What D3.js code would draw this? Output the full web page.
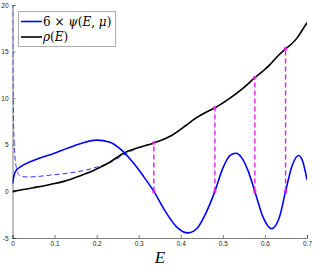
<!DOCTYPE html>
<html><head><meta charset="utf-8">
<script src="https://cdn.jsdelivr.net/npm/d3@7"></script>
<style>body{margin:0;background:#fff}svg{display:block}</style>
</head><body>
<svg id="c" width="316" height="267"></svg>
<script>
const xTicks = [0, 0.1, 0.2, 0.3, 0.4, 0.5, 0.6, 0.7];
const yTicks = [-5, 0, 5, 10, 15, 20];

const psiE = [0, 0.003, 0.008, 0.018, 0.033, 0.06, 0.096, 0.144, 0.2, 0.23, 0.26, 0.29, 0.31, 0.336, 0.36, 0.39, 0.417, 0.44, 0.46, 0.481, 0.5, 0.518, 0.531, 0.545, 0.56, 0.576, 0.595, 0.616, 0.635, 0.649, 0.665, 0.68, 0.69, 0.7];
const psiV = [0.8, 1.6, 2.2, 2.6, 3.0, 3.5, 4.05, 4.85, 5.5, 5.3, 4.4, 2.9, 1.7, 0, -1.9, -3.8, -4.45, -3.9, -2.3, 0, 2.5, 3.9, 4.1, 3.6, 2.2, 0, -2.7, -4.0, -2.7, 0, 2.8, 3.86, 3.2, 1.25];

const rhoE = [0, 0.02, 0.05, 0.09, 0.12, 0.15, 0.18, 0.2, 0.23, 0.264, 0.3, 0.336, 0.378, 0.413, 0.434, 0.469, 0.481, 0.517, 0.549, 0.576, 0.595, 0.612, 0.63, 0.649, 0.665, 0.677, 0.69, 0.7];
const rhoV = [0, 0.15, 0.4, 0.75, 1.05, 1.5, 2.0, 2.4, 3.1, 4.1, 4.7, 5.2, 6.0, 7.1, 7.8, 8.7, 8.97, 10.0, 11.1, 12.2, 12.9, 13.6, 14.5, 15.3, 15.9, 16.5, 17.4, 18.1];

const approxE = [0.0004, 0.001, 0.002, 0.004, 0.0065, 0.01, 0.015, 0.022, 0.035, 0.06, 0.09, 0.13, 0.176, 0.2, 0.232, 0.26, 0.3, 0.336, 0.378, 0.413, 0.434, 0.469, 0.481, 0.517, 0.549, 0.576, 0.595, 0.612, 0.63, 0.649, 0.665, 0.677, 0.69, 0.7];
const approxV = [21, 14, 9, 5.2, 3.4, 2.4, 1.8, 1.6, 1.55, 1.6, 1.75, 1.95, 2.3, 2.6, 3.1, 3.8, 4.7, 5.2, 6.0, 7.1, 7.8, 8.7, 8.97, 10.0, 11.1, 12.2, 12.9, 13.6, 14.5, 15.3, 15.9, 16.5, 17.4, 18.1];

const rootE = [0.336, 0.481, 0.576, 0.649];
const rootRho = [5.2, 8.97, 12.2, 15.3];

const svg = d3.select('#c');
const L = 12.5, R = 307, T = 5, B = 238;
const x = d3.scaleLinear().domain([0, 0.7]).range([L, R]);
const y = d3.scaleLinear().domain([-5, 20]).range([B, T]);

svg.append('defs').append('clipPath').attr('id', 'clip')
  .append('rect').attr('x', L).attr('y', T).attr('width', R - L).attr('height', B - T);

const ax = svg.append('g').attr('font-family', 'Helvetica, Arial, sans-serif');
const xa = ax.append('g').attr('transform', `translate(0,${B})`)
  .call(d3.axisBottom(x).tickValues(xTicks).tickSize(-3).tickPadding(5).tickFormat(d => d === 0 ? '0' : d3.format('.1f')(d)));
const ya = ax.append('g').attr('transform', `translate(${L},0)`)
  .call(d3.axisLeft(y).tickValues(yTicks).tickSize(-3).tickPadding(4).tickFormat(d => d < 0 ? '-' + Math.abs(d) : d));
ax.selectAll('.domain').attr('stroke', '#262626').attr('stroke-width', 0.6);
ax.selectAll('.tick line').attr('stroke', '#262626').attr('stroke-width', 0.6);
ax.selectAll('.tick text').attr('fill', '#262626').attr('font-size', 6.5);
xa.selectAll('.tick text').attr('dy', '0.5em');

const g = svg.append('g').attr('clip-path', 'url(#clip)');
const line = (xs, ys) => d3.line().curve(d3.curveMonotoneX)
  .x((d, i) => x(xs[i])).y((d, i) => y(ys[i]))(xs);

g.append('path').attr('d', line(approxE, approxV)).attr('fill', 'none')
  .attr('stroke', '#3333ff').attr('stroke-width', 1).attr('stroke-dasharray', '5,3');
g.append('path').attr('d', line(rhoE, rhoV)).attr('fill', 'none')
  .attr('stroke', '#000').attr('stroke-width', 1.6);
g.append('path').attr('d', line(psiE, psiV)).attr('fill', 'none')
  .attr('stroke', '#0000ff').attr('stroke-width', 1.6);

rootE.forEach((e, i) => {
  svg.append('line').attr('x1', x(e)).attr('x2', x(e)).attr('y1', y(0)).attr('y2', y(rootRho[i]))
    .attr('stroke', '#e619e6').attr('stroke-width', 1.4).attr('stroke-dasharray', '5,3');
  [0, rootRho[i]].forEach(v => svg.append('rect').attr('x', x(e) - 1.5).attr('y', y(v) - 1.5)
    .attr('width', 3).attr('height', 3).attr('fill', '#e619e6'));
});

// legend
const lg = svg.append('g');
lg.append('rect').attr('x', 18.5).attr('y', 11.5).attr('width', 97).attr('height', 35)
  .attr('fill', '#fff').attr('stroke', '#999').attr('stroke-width', 0.8);
lg.append('line').attr('x1', 21).attr('x2', 42).attr('y1', 21.5).attr('y2', 21.5).attr('stroke', '#0000ff').attr('stroke-width', 1.6);
lg.append('line').attr('x1', 21).attr('x2', 42).attr('y1', 37).attr('y2', 37).attr('stroke', '#000').attr('stroke-width', 1.6);
const t1 = lg.append('text').attr('x', 43).attr('y', 25.5).attr('font-family', 'DejaVu Serif, serif').attr('font-size', 12);
t1.append('tspan').text('6 × ');
t1.append('tspan').attr('font-style', 'italic').text('ψ');
t1.append('tspan').text('(');
t1.append('tspan').attr('font-style', 'italic').text('E');
t1.append('tspan').text(', ');
t1.append('tspan').attr('font-style', 'italic').text('μ');
t1.append('tspan').text(')');
const t2 = lg.append('text').attr('x', 43).attr('y', 41).attr('font-family', 'DejaVu Serif, serif').attr('font-size', 12);
t2.append('tspan').attr('font-style', 'italic').text('ρ');
t2.append('tspan').text('(');
t2.append('tspan').attr('font-style', 'italic').text('E');
t2.append('tspan').text(')');

svg.append('text').attr('x', 160).attr('y', 263).attr('text-anchor', 'middle')
  .attr('font-family', 'Liberation Serif, serif').attr('font-style', 'italic').attr('font-size', 17).text('E');
</script>
</body></html>
